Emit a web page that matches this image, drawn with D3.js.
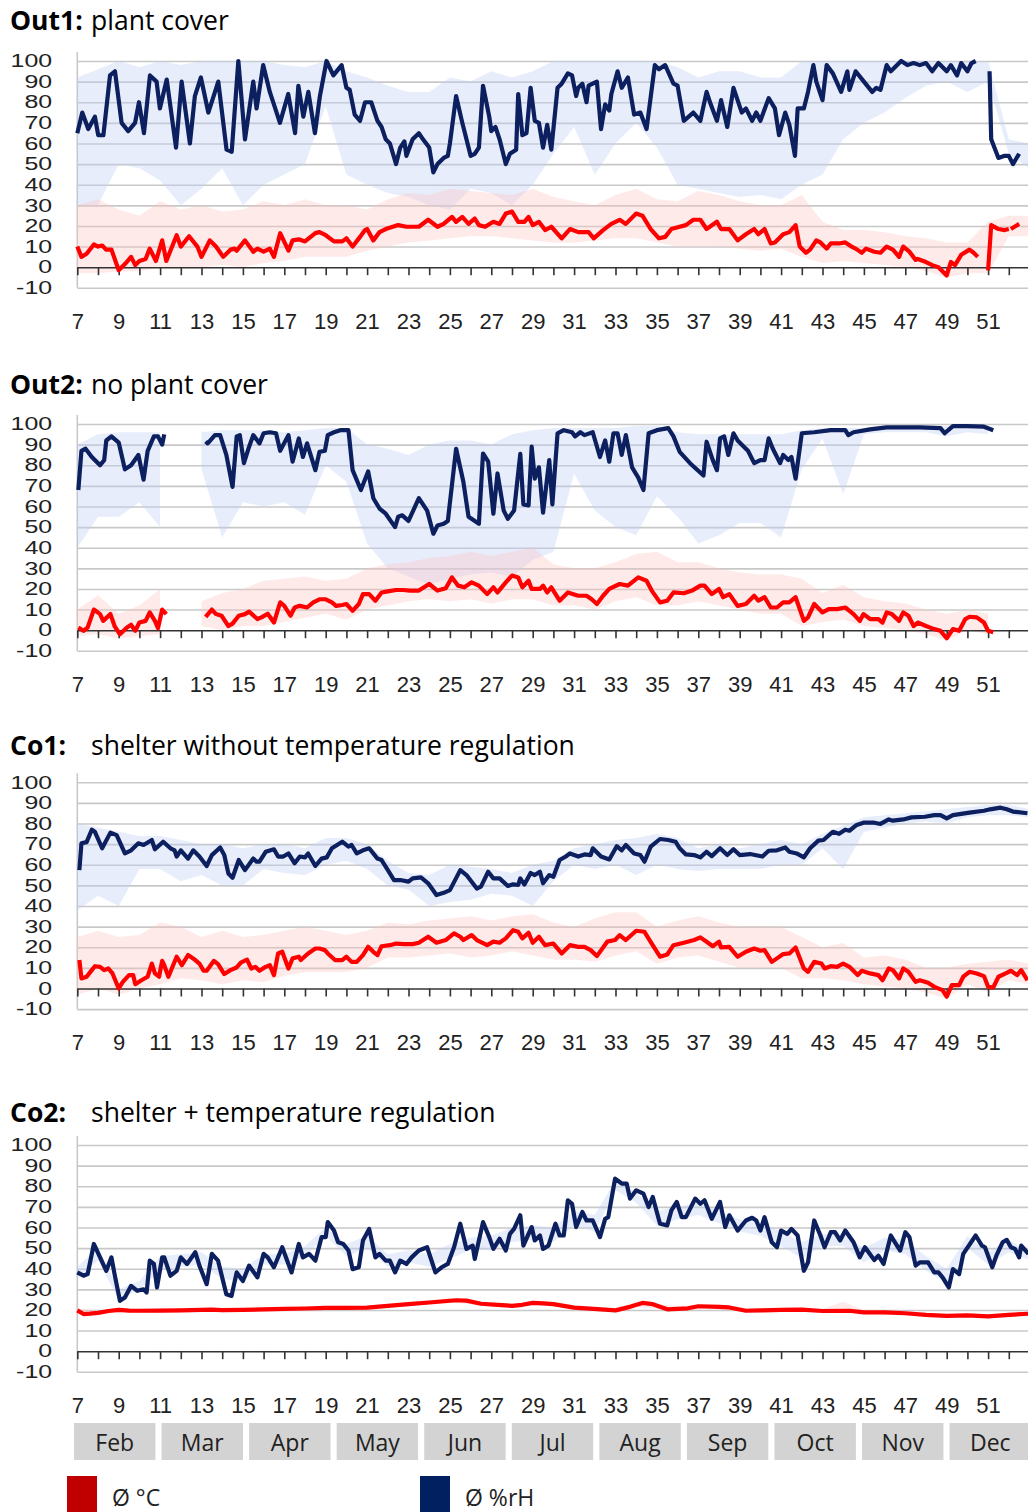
<!DOCTYPE html>
<html>
<head>
<meta charset="utf-8">
<script src="https://cdn.jsdelivr.net/npm/d3@7"></script>
<style>
    body { margin: 0; background: #fff; }
    svg { display: block; font-family: "Open Sans", "Noto Sans", sans-serif; }
</style>
</head>
<body>
<svg id="chart" width="1028" height="1512"></svg>
<script>
"use strict";

// calendar weeks (x), tick labels
var weekTicks = d3.range(7, 53);
var weekLabels = d3.range(7, 52, 2);
var bandWeeks = d3.range(7, 54);
var yTicks = d3.range(-10, 101, 10);
var months = ["Feb", "Mar", "Apr", "May", "Jun", "Jul", "Aug", "Sep", "Oct", "Nov", "Dec"];

// ---- Out1: plant cover ----  [week, value]
var out1Rh = [[7,65],[7.24,75],[7.53,67],[7.85,73],[8.01,64],[8.26,64],[8.58,93],[8.82,95],[9.14,70],[9.46,66],[9.79,70],[9.98,80],[10.22,65],[10.51,93],[10.83,90],[10.99,77],[11.32,91],[11.77,58],[12.04,90],[12.44,60],[12.68,83],[12.97,92],[13.33,75],[13.81,90],[14.21,57],[14.46,56],[14.78,100],[15.1,62],[15.5,90],[15.66,77],[15.98,98],[16.3,85],[16.79,70],[17.19,84],[17.52,65],[17.68,88],[17.92,73],[18.16,85],[18.48,65],[18.72,83],[19.04,100],[19.37,93],[19.77,98],[20.0,87],[20.16,86],[20.4,74],[20.66,71],[20.9,80],[21.2,80],[21.5,71],[21.7,68],[21.9,62],[22.1,60],[22.4,50],[22.6,58],[22.8,61],[22.9,54],[23.2,62],[23.5,65],[23.7,62],[24.0,58],[24.2,46],[24.4,50],[24.7,53],[24.9,54],[25.0,60],[25.3,83],[25.6,70],[25.8,62],[26.0,54],[26.2,55],[26.4,58],[26.6,88],[26.9,73],[27.0,66],[27.2,68],[27.4,62],[27.7,50],[27.9,55],[28.2,57],[28.3,84],[28.5,64],[28.7,65],[28.9,87],[29.1,71],[29.3,70],[29.5,58],[29.7,69],[29.9,57],[30.2,87],[30.4,89],[30.7,94],[30.9,93],[31.1,83],[31.2,87],[31.4,89],[31.6,80],[31.7,88],[31.9,89],[32.1,90],[32.3,67],[32.5,79],[32.7,76],[32.8,84],[33.1,95],[33.3,87],[33.6,92],[33.9,74],[34.2,75],[34.5,67],[34.9,98],[35.1,96],[35.4,98],[35.8,89],[36.0,88],[36.3,71],[36.76,75],[37.1,71],[37.4,85],[37.6,79],[37.9,71],[38.1,81],[38.4,68],[38.7,87],[39.1,75],[39.3,77],[39.6,71],[39.8,75],[40.0,71],[40.4,82],[40.7,77],[40.9,64],[41.2,75],[41.4,69],[41.67,54],[41.8,77],[42.1,77],[42.3,85],[42.56,98],[42.7,90],[43.0,81],[43.2,98],[43.5,94],[43.9,85],[44.2,95],[44.3,86],[44.6,95],[45.0,90],[45.4,85],[45.6,87],[45.8,86],[46.1,98],[46.3,95],[46.8,100],[47.1,98],[47.4,99],[47.7,98],[48.0,99],[48.3,95],[48.6,99],[49.0,95],[49.2,98],[49.5,93],[49.7,99],[50.0,95],[50.2,99],[50.4,100],[50.7,null],[51.07,95],[51.15,62],[51.5,53],[51.8,54],[52.0,54],[52.2,50],[52.5,55]];
var out1Temp = [[7,10],[7.2,5],[7.45,6.5],[7.8,11],[8.0,10],[8.2,10.5],[8.4,8.5],[8.65,8.5],[9.0,-1.5],[9.3,1.5],[9.6,5],[9.8,1],[10.0,3],[10.3,4],[10.5,9],[10.8,3],[11.1,13],[11.3,3],[11.8,15.5],[12.0,10],[12.4,15],[12.8,10],[13.0,5],[13.4,13],[13.7,10],[14.05,5],[14.4,8.5],[14.6,9],[14.7,8],[15.1,13],[15.5,7.5],[15.7,9],[16.0,7.5],[16.3,9],[16.5,5],[16.8,16.5],[17.2,8],[17.4,13],[17.7,13.5],[18.0,12.5],[18.5,16.5],[18.7,17],[19.0,15.5],[19.4,12.5],[19.8,12.5],[20.0,14],[20.3,10],[20.66,14.7],[20.9,18],[21.0,18.5],[21.3,13],[21.6,17],[21.9,18.5],[22.5,20.4],[22.9,19.6],[23.5,19.6],[23.95,23],[24.4,19.6],[24.7,21],[25.1,24.4],[25.3,22],[25.6,24.4],[25.9,21],[26.2,23.6],[26.4,20.4],[26.7,19.6],[27.1,22],[27.4,21],[27.7,26],[28.0,27],[28.3,22],[28.6,22],[28.8,24.4],[29.0,20.4],[29.3,22],[29.6,18],[29.9,19.6],[30.4,14],[30.8,18.5],[31.2,17],[31.7,17],[31.95,14],[32.4,18],[32.8,21],[33.2,23],[33.5,21],[34.0,26],[34.3,25],[34.7,18.5],[35.1,14],[35.4,14.7],[35.7,18.5],[36.1,19.6],[36.4,20.4],[36.76,23],[37.1,23],[37.4,18.5],[37.9,22],[38.1,18.5],[38.5,18.5],[38.9,13],[39.3,16],[39.7,18.5],[39.9,16],[40.2,18.5],[40.5,11.5],[40.7,12],[41.1,16],[41.4,17],[41.7,20.4],[41.9,10],[42.2,7],[42.4,8.5],[42.7,13],[42.9,12],[43.2,9],[43.4,11.5],[43.8,11.5],[44.1,12],[44.4,10],[44.6,9],[44.9,7],[45.1,9],[45.5,7.5],[45.8,7],[46.1,10],[46.4,8.5],[46.7,5],[46.9,10],[47.2,7.5],[47.5,3.5],[47.6,4],[48.0,2.5],[48.3,1],[48.6,0],[49.0,-4],[49.2,2.5],[49.4,1],[49.7,6],[50.1,8.5],[50.3,7],[50.5,5],[50.7,null],[51.0,-1.5],[51.15,20.4],[51.5,18.5],[51.8,18],[52.0,18.5],[52.05,null],[52.1,18.5],[52.5,21]];
// weekly min / max (weeks 7..53)
var out1RhMax = [92,96,100,97,100,98,100,100,100,100, 98,97,100,95,92,88,85,85,92,90, 95,92,95,100,100,100,100,100,100,97, 92,95,95,92,92,100,100,100,100,100, 100,100,100,100,100,62,60];
var out1RhMin = [30,30,50,48,42,30,38,48,30,40, 45,50,78,45,40,36,34,30,28,38, 36,30,40,55,68,45,60,70,58,40, 38,36,34,35,33,40,45,62,70,75, 82,88,90,85,90,55,48];
var out1TMax = [30,33,28,25,32,28,30,27,28,32, 30,33,30,30,28,33,36,35,38,37, 36,35,38,34,32,30,35,38,33,32, 37,35,32,30,30,35,22,18,18,17, 15,14,12,12,22,25,25];
var out1TMin = [-3,-3,-2,-2,0,0,0,1,0,2, 3,5,5,5,8,10,12,13,14,15, 15,14,13,12,12,13,14,14,12,10, 10,10,9,8,9,5,2,3,2,1, 0,-2,-5,-3,-3,15,15];

// ---- Out2: no plant cover ----
var out2Rh = [[7.05,68],[7.2,87],[7.4,88],[7.7,84],[8.1,80],[8.3,82.5],[8.4,92],[8.65,94],[9.0,91],[9.3,78],[9.6,80],[9.95,85],[10.2,73],[10.4,87],[10.7,94],[10.9,94],[11.1,90],[11.2,95],[12,null],[13.2,91.5],[13.3,90.6],[13.65,94.6],[13.9,94.6],[14.2,85],[14.5,69.5],[14.7,94],[14.85,94.6],[15.05,81],[15.3,89],[15.5,94.6],[15.8,90.6],[16.0,95.5],[16.3,96],[16.6,95.5],[16.8,87],[17.2,94.6],[17.4,81.7],[17.7,93],[17.9,84],[18.1,90.6],[18.5,77.6],[18.7,86.5],[18.96,87],[19.1,94.6],[19.4,96],[19.7,97],[20.1,97],[20.3,77.6],[20.7,68],[21.05,77],[21.3,64],[21.6,59],[21.9,56.5],[22.35,50],[22.5,55],[22.7,55.7],[23.0,53],[23.5,64],[23.9,58],[24.2,46.8],[24.4,50.8],[24.7,51.6],[24.9,53],[25.3,88],[25.65,72],[25.9,55],[26.4,51.6],[26.6,85.7],[26.85,81.7],[27.1,56.5],[27.3,76],[27.6,58],[27.8,54],[28.1,58],[28.4,85.5],[28.55,61],[28.8,60.5],[28.95,89],[29.1,73.5],[29.3,79],[29.5,57],[29.8,82.5],[29.95,61],[30.2,95.5],[30.5,97],[30.9,96],[31.05,94],[31.3,96],[31.5,94.6],[31.9,96],[32.25,84],[32.5,92],[32.7,81.7],[32.9,95.5],[33.1,95.5],[33.3,85],[33.5,94.6],[33.8,79],[34.1,74],[34.35,68],[34.6,95.5],[35.0,97],[35.55,98],[35.8,94],[36.1,86.5],[36.6,81],[37.25,75],[37.4,91.4],[37.7,82.5],[37.9,77.6],[38.05,93],[38.25,94],[38.45,85],[38.7,95.5],[38.9,92],[39.2,89],[39.4,87],[39.7,81],[40.0,82.5],[40.2,82.5],[40.4,93],[40.6,88],[40.95,81],[41.1,85],[41.35,82.5],[41.5,84],[41.7,73.5],[42.0,95.5],[42.6,96],[43.4,97],[44.1,97],[44.25,94.6],[44.5,96],[45.3,97.4],[46.1,98.4],[47.7,98.4],[48.7,98],[48.9,95.5],[49.3,99],[49.97,99],[50.8,98.7],[51.25,97]];
var out2Temp = [[7.05,1.3],[7.3,-0.3],[7.5,1.3],[7.8,10],[8.1,7.8],[8.25,4.5],[8.6,7.8],[8.8,2],[9.06,-2],[9.4,1.3],[9.6,2.6],[9.8,-0.3],[10.0,3.7],[10.3,4.5],[10.5,8.6],[10.75,4.5],[10.9,1],[11.1,10],[11.3,7.8],[12,null],[13.2,6.5],[13.5,10],[13.7,7.8],[13.97,7],[14.3,2],[14.5,3.2],[14.8,7],[15.1,7.8],[15.3,9],[15.7,5.4],[15.9,6.2],[16.2,8],[16.5,3.7],[16.8,13.5],[17.0,11.8],[17.3,7],[17.5,11],[17.75,11.8],[18.1,11],[18.4,13.5],[18.7,15],[19.0,15],[19.3,13.5],[19.5,11.8],[19.8,12.2],[20.0,12.7],[20.3,9.4],[20.6,12.7],[20.8,17.5],[21.1,17.5],[21.4,14.3],[21.7,18.3],[22.0,18.8],[22.4,19.5],[22.75,19.5],[23.07,19.2],[23.5,19.2],[24.0,22.4],[24.4,19.2],[24.8,20.3],[25.1,25.6],[25.4,21.6],[25.7,20.8],[26.05,23.2],[26.4,21.6],[26.8,17.5],[27.1,20.8],[27.3,18.3],[27.7,23.2],[28.0,26.5],[28.3,25.6],[28.5,20.8],[28.8,24],[28.95,20],[29.35,20],[29.5,21.6],[29.7,18.3],[29.9,20.8],[30.3,14.3],[30.7,18.3],[31.2,16.7],[31.6,16.7],[31.85,15],[32.1,12.7],[32.4,16.7],[32.7,20],[33.2,22.4],[33.6,21.6],[34.1,25.6],[34.5,24],[34.75,19.2],[35.15,13.5],[35.5,14.3],[35.8,18.3],[36.3,17.9],[36.7,19.2],[37.1,21.6],[37.3,21.6],[37.65,17.5],[38.0,20],[38.2,16],[38.5,17.5],[38.9,11.8],[39.3,12.7],[39.7,16.7],[39.9,14.3],[40.2,16],[40.5,11],[40.8,11],[41.1,13.5],[41.4,13.5],[41.7,16],[42.1,4.5],[42.3,6.2],[42.6,12.7],[43.0,8.6],[43.3,10.2],[43.7,10.2],[44.1,11],[44.5,7.8],[44.8,4.5],[44.98,7.8],[45.3,5.4],[45.7,5.4],[45.9,3.7],[46.1,8.6],[46.35,7.8],[46.7,4.5],[46.9,8.6],[47.15,7],[47.4,2],[47.6,3.7],[48.0,2],[48.4,0.5],[48.7,-0.3],[49.0,-3.9],[49.3,0.5],[49.6,-0.3],[49.9,5.4],[50.1,6.5],[50.45,6.2],[50.8,3.7],[51.0,-0.3],[51.25,-1]];
var out2RhMax = [90,95,96,96,96,null,96,97,97,97, 96,97,98,98,90,88,85,90,92,92, 90,95,97,98,98,98,98,99,99,96, 95,95,95,95,95,97,98,98,98,99, 99,99,99,99,99,null,null];
var out2RhMin = [40,55,55,62,50,null,78,45,62,60, 62,56,80,72,42,30,26,22,25,27, 28,26,34,38,76,58,50,46,65,55, 42,46,52,52,45,78,93,66,95,96, 96,96,94,96,95,null,null];
var out2TMax = [10,17,8,12,20,null,14,18,20,24, 25,26,24,25,30,32,33,35,36,38, 36,38,40,32,30,30,33,37,38,33, 33,30,28,27,27,25,18,22,16,14, 13,10,8,10,8,null,null];
var out2TMin = [-3,-2,-4,-3,-2,null,2,0,2,2, 4,6,8,5,10,12,14,15,14,15, 13,15,15,12,12,10,14,16,12,12, 14,12,10,8,8,2,4,5,2,1, 0,-2,-5,0,-2,null,null];

// ---- Co1: shelter without temperature regulation ----
var co1Rh = [[7.1,57.4],[7.2,70.4],[7.45,71],[7.7,77],[7.85,76],[8.2,68],[8.6,75.6],[8.9,74.4],[9.3,65.5],[9.6,67],[9.95,70.4],[10.2,69.6],[10.6,72],[10.75,67.5],[11.15,71.2],[11.5,68],[11.7,67],[11.8,64],[12.0,67],[12.35,63],[12.6,67],[12.9,64],[13.25,59.4],[13.5,64.7],[13.9,68.4],[14.1,64.7],[14.3,55.8],[14.5,53.7],[14.8,62.3],[15.1,57.4],[15.5,63],[15.66,61.5],[15.8,61.5],[16.1,66.3],[16.5,67.5],[16.7,64],[16.95,64],[17.2,65.5],[17.5,60.7],[17.75,64],[18.0,63.6],[18.15,65.5],[18.5,59.4],[18.8,63],[19.05,63.6],[19.3,68],[19.8,71.2],[20.1,68.8],[20.25,69.6],[20.5,65.5],[20.8,67],[21.1,68],[21.5,63],[21.7,62.3],[21.95,58.3],[22.3,52.6],[22.6,52.6],[23.0,51.8],[23.2,53.4],[23.6,53.9],[23.95,51],[24.35,45.3],[24.7,46.4],[25.0,47.7],[25.5,57.4],[25.8,55],[26.3,48.5],[26.5,49.4],[26.85,56.6],[27.1,53.4],[27.4,53.4],[27.8,49.7],[28.05,50.5],[28.3,50.2],[28.4,53.4],[28.6,50.4],[28.9,56],[29.1,55],[29.35,56.6],[29.5,51],[29.8,55],[30.0,54.2],[30.3,62.3],[30.6,64],[30.8,65.5],[31.2,64],[31.5,65],[31.8,64.7],[31.9,68],[32.3,64],[32.7,62.6],[33.06,69],[33.3,67],[33.5,69.6],[33.9,65.5],[34.2,64.7],[34.4,61.5],[34.7,68.8],[35.15,72.5],[35.55,72],[35.9,71.2],[36.1,68],[36.4,65],[36.8,64.7],[37.1,63.6],[37.4,66.3],[37.65,64.2],[38.05,68],[38.4,64.7],[38.7,67.5],[39.0,64.7],[39.5,65.2],[40.1,64],[40.4,66.8],[40.8,67],[41.2,68.4],[41.4,66.3],[41.75,65.5],[42.1,63.6],[42.4,68],[42.8,71.7],[43.05,72],[43.5,76],[43.8,75],[44.1,77],[44.3,76.5],[44.65,79.3],[44.98,80.4],[45.5,80.4],[45.8,79.8],[46.2,82],[46.4,81.4],[46.9,82],[47.3,83],[47.95,83.3],[48.4,84.1],[48.7,84.1],[49.0,82.5],[49.3,84.1],[50.1,85.3],[50.8,86.2],[51.1,86.9],[51.6,87.7],[51.9,86.9],[52.2,85.8],[52.9,85]];
var co1Temp = [[7.1,13.8],[7.2,4.9],[7.45,5.7],[7.7,8.9],[7.85,10.8],[8.1,10.5],[8.3,8.9],[8.5,9.7],[8.7,7.3],[9.0,0],[9.2,3.2],[9.5,6.5],[9.7,6.5],[9.8,2.1],[10.1,4],[10.4,5.7],[10.6,12.1],[10.75,7.3],[10.95,5.7],[11.1,13.4],[11.2,11.3],[11.4,5.7],[11.8,15.4],[12.05,11.3],[12.35,16.2],[12.7,13.8],[12.9,12.1],[13.1,8.6],[13.25,8.6],[13.6,13.4],[13.8,11.8],[14.1,7],[14.4,8.9],[14.7,10.2],[14.9,12.5],[15.2,14],[15.4,9.7],[15.6,10.5],[15.8,8.6],[16.1,10.5],[16.3,11.3],[16.5,6.5],[16.7,17],[16.9,17.8],[17.2,9.7],[17.4,14.6],[17.7,15.4],[17.8,13.8],[18.15,17],[18.5,19.4],[18.7,19.4],[18.96,18.6],[19.1,17],[19.45,13.8],[19.8,13.8],[20.0,15.4],[20.25,12.9],[20.5,12.9],[20.8,16.2],[21.05,20.2],[21.3,17.8],[21.5,16.2],[21.7,20.5],[22.1,21],[22.4,21.8],[22.8,21.5],[23.2,21.5],[23.5,22.2],[23.95,25.1],[24.35,22.2],[24.8,23.5],[25.2,26.7],[25.5,25.1],[25.65,23.5],[26.05,25.9],[26.3,23.5],[26.8,21],[27.1,22.7],[27.4,22.2],[27.7,24.3],[28.05,28.3],[28.3,27.5],[28.5,24.3],[28.8,27],[29.0,22.2],[29.3,25.1],[29.6,21],[30.0,21.8],[30.4,17],[30.8,21],[31.2,20.2],[31.5,20.2],[31.8,18.6],[32.1,15.7],[32.6,22.7],[32.98,23.5],[33.2,25.9],[33.5,23.5],[34.0,28],[34.4,27.5],[34.75,21.8],[35.15,15.4],[35.5,16.5],[35.8,21],[36.3,22.2],[36.8,23.5],[37.1,24.8],[37.4,22.7],[37.7,20.5],[38.0,22.7],[38.1,19.9],[38.5,20.2],[38.9,15.4],[39.3,17.8],[39.7,19.4],[40.0,18.3],[40.2,18.6],[40.55,12.9],[40.8,14.6],[41.1,16.7],[41.4,17],[41.7,19.9],[42.1,9.7],[42.3,8.1],[42.6,12.9],[42.95,12.1],[43.1,9.7],[43.4,10.8],[43.7,10.5],[44.0,12.1],[44.3,10.5],[44.7,6.5],[44.9,8.6],[45.3,7.3],[45.7,6.5],[45.9,4],[46.2,9.7],[46.4,8.9],[46.7,4.9],[46.9,9.7],[47.15,8.1],[47.5,3.2],[47.7,4],[48.1,2.8],[48.4,0.8],[48.8,-0.8],[49.0,-4],[49.25,1.6],[49.6,1.6],[49.8,5.7],[50.1,8.1],[50.45,7.3],[50.8,6],[51.0,0.8],[51.25,0.5],[51.5,5.7],[51.9,7.6],[52.1,8.6],[52.4,6.5],[52.6,8.9],[52.9,4]];
var co1RhMax = [80,78,76,74,74,72,70,70,68,70, 70,68,73,73,70,62,56,55,60,59, 58,56,60,62,68,70,72,73,75,73, 68,70,68,70,72,70,75,79,83,84, 85,86,87,88,89,89,87];
var co1RhMin = [38,45,40,58,58,52,55,50,50,58, 56,55,60,62,58,50,48,40,42,43, 46,45,40,52,60,58,60,55,60,58, 57,58,58,58,60,60,68,58,76,78, 80,81,80,83,84,84,83];
var co1TMax = [25,28,25,26,32,30,25,28,25,26, 28,30,28,26,28,32,31,33,34,35, 33,35,36,32,30,34,37,37,30,33, 35,32,30,30,30,25,20,22,15,16, 14,10,10,12,13,14,12];
var co1TMin = [-3,0,-3,0,2,5,4,2,4,3, 6,8,8,8,10,15,15,16,17,15, 16,18,16,14,14,13,16,18,12,15, 16,13,10,10,10,5,5,4,2,1, 0,-2,-5,2,-2,4,2];

// ---- Co2: shelter + temperature regulation ----
var co2Rh = [[7.0,38.2],[7.3,36.6],[7.5,37.4],[7.8,52],[8.1,45.5],[8.4,39],[8.65,45.5],[8.8,37.4],[9.06,24.4],[9.3,26],[9.6,31.7],[9.9,29.3],[10.2,30],[10.35,28.5],[10.5,43.9],[10.7,42.3],[10.85,30.9],[11.1,45.5],[11.2,45.5],[11.5,36.6],[11.8,39],[12.0,45.5],[12.3,42.3],[12.7,48],[12.9,41.5],[13.25,32.5],[13.5,47.2],[13.8,43.9],[14.2,27.6],[14.45,26.8],[14.7,38.2],[15.0,34],[15.3,41.5],[15.7,35.8],[16.0,47.2],[16.2,45.5],[16.5,40.7],[16.9,50.4],[17.35,38.2],[17.7,52],[17.9,45.5],[18.2,47.2],[18.5,43.9],[18.8,55.3],[19.0,55.3],[19.1,62.6],[19.4,58.5],[19.6,52.8],[19.85,52],[20.1,48.8],[20.3,39.8],[20.6,40.7],[20.8,53.7],[21.1,59.3],[21.4,45.5],[21.6,47.2],[21.9,43.9],[22.1,43.9],[22.35,38.2],[22.6,43.9],[22.9,42.3],[23.15,45.5],[23.5,48.8],[23.9,50.4],[24.3,38.2],[24.6,40.7],[24.9,42.3],[25.2,50.4],[25.5,61.8],[25.8,49.6],[26.1,51.2],[26.2,44.7],[26.6,62.6],[26.9,55.3],[27.1,49.6],[27.4,54.5],[27.7,48.8],[27.9,56.9],[28.1,59.3],[28.4,65.9],[28.55,51.2],[28.8,56.9],[28.95,60.2],[29.1,53.7],[29.35,56.1],[29.5,49.6],[29.76,51.2],[30.1,61.8],[30.3,56.1],[30.5,56.1],[30.7,73.2],[30.9,71.5],[31.1,60.2],[31.4,67.5],[31.6,63.4],[31.9,63.4],[32.25,55.3],[32.5,64.2],[32.65,65],[32.98,83.7],[33.3,81.3],[33.54,81.3],[33.7,74],[34.0,78],[34.35,76.4],[34.6,69.9],[34.8,74.8],[35.15,61.8],[35.5,61],[35.7,68.3],[35.96,72.4],[36.2,65],[36.4,65],[36.85,74],[37.1,71.5],[37.3,73.2],[37.65,64.2],[38.05,72.4],[38.3,60.2],[38.5,65.9],[38.9,58.5],[39.3,63.4],[39.6,64.7],[39.8,63.4],[40.0,58.5],[40.2,65],[40.55,52.8],[40.8,50.4],[41.0,58.5],[41.3,56.9],[41.5,59.3],[41.8,56.1],[42.1,39],[42.3,43.1],[42.6,63.4],[42.9,56.1],[43.1,50.4],[43.4,57.7],[43.6,57.7],[43.85,53.7],[44.1,58.5],[44.5,52.8],[44.8,45.5],[45.05,50.4],[45.5,44.2],[45.7,46.3],[45.95,42.3],[46.3,56.1],[46.5,52.8],[46.75,48.8],[47.0,57.7],[47.2,55.3],[47.5,41.5],[47.7,43.1],[48.1,43.1],[48.4,38.2],[48.6,38.2],[48.8,35.8],[49.1,30.9],[49.3,39.8],[49.6,37.4],[49.8,47.2],[50.4,56.1],[50.7,51.2],[50.85,50.4],[51.2,40.7],[51.4,46.3],[51.7,52.8],[51.9,54],[52.1,50.4],[52.3,49.6],[52.5,45.5],[52.6,51.2],[52.95,47.2]];
var co2Temp = [[7,19.8],[7.3,18],[7.6,18.2],[8,18.6],[8.5,19.5],[9,20],[9.5,19.7],[10,19.6],[11,19.7],[12,19.8],[13,20],[13.5,20.2],[14,19.9],[15,20],[16,20.3],[17,20.5],[18,20.7],[19,21],[20,21],[21,21.1],[22,22],[23,22.8],[24,23.6],[25.3,24.7],[25.8,24.5],[26.5,23],[27.5,22.3],[28,22],[28.5,22.5],[29,23.4],[29.5,23.2],[30,22.8],[31,21.1],[32.3,20.3],[33,19.8],[33.7,21.5],[34.3,23.4],[34.8,22.8],[35.5,20.3],[36.5,20.8],[37,21.8],[38,21.5],[38.5,21.2],[39.3,19.6],[40,19.8],[41,20],[42,20.2],[43,19.5],[44.3,19.6],[45,18.8],[46,18.8],[47,18.4],[48,17.6],[49,17.1],[50,17.4],[51,16.9],[52,17.6],[53,18.2]];
var co2RhMax = [41,50,30,34,46,47,48,41,40,47, 47,51,60,52,56,47,49,47,52,55, 56,60,61,60,68,66,83,77,68,70, 72,68,64,62,58,53,57,57,50,55, 54,46,40,56,48,54,48];
var co2RhMin = [35,44,25,30,39,41,42,35,34,42, 42,46,56,46,50,41,43,41,45,49, 49,53,54,53,61,58,78,72,61,64, 66,62,58,56,51,45,51,51,43,49, 47,39,33,50,42,48,44];
var co2TMax = [20.8,19.6,21,20.6,20.7,20.8,21,20.9,21,21.3, 21.3,21.5,22,22,22,23,24,24.8,25.8,25, 23.5,23,24.5,23.8,22.2,21.5,21,23.8,23,21.8, 22.8,22.5,21.2,20.8,21,21.2,20.5,24,19.8,19.8, 19.4,18.6,18.1,18.4,17.9,18.6,19.2];
var co2TMin = [18,17.6,19,18.6,18.7,18.8,19,18.9,19,19.3, 19.5,19.7,20,20,20.1,21,21.8,22.6,23.5,22.8, 21.5,21,22.4,21.8,20.1,19.5,18.8,21.5,20.5,19.6, 20.8,20.5,19.2,18.8,19,19.2,18.5,18.6,17.8,17.8, 17.4,16.6,16.1,16.4,15.9,16.6,17.2];

var legendItems = [
    { label: "Ø °C", color: "#c00000" },
    { label: "Ø %rH", color: "#002060" }
];

var FONT = '"Open Sans", "Noto Sans", sans-serif';
// tighter metrics for the densely stacked y labels
var TICK_FONT = '"Liberation Sans", Arial, sans-serif';
var RH_COLOR = "#0c1f5e";
var T_COLOR = "#ff0000";
var GRID = "#c8c8c8";

var panels = [
    { label: "Out1:", title: "plant cover", top: 61, titleY: 30,
      rh: out1Rh, temp: out1Temp, rhMin: out1RhMin, rhMax: out1RhMax, tMin: out1TMin, tMax: out1TMax },
    { label: "Out2:", title: "no plant cover", top: 424, titleY: 394,
      rh: out2Rh, temp: out2Temp, rhMin: out2RhMin, rhMax: out2RhMax, tMin: out2TMin, tMax: out2TMax },
    { label: "Co1:", title: "shelter without temperature regulation", top: 782.3, titleY: 755,
      rh: co1Rh, temp: co1Temp, rhMin: co1RhMin, rhMax: co1RhMax, tMin: co1TMin, tMax: co1TMax },
    { label: "Co2:", title: "shelter + temperature regulation", top: 1145, titleY: 1122,
      rh: co2Rh, temp: co2Temp, rhMin: co2RhMin, rhMax: co2RhMax, tMin: co2TMin, tMax: co2TMax }
];

var svg = d3.select("#chart");
var width = 1028;

// one shared week axis
var x = d3.scaleLinear().domain([7, 53]).range([77.3, 1029.5]);

panels.forEach(function (p) {
    var g = svg.append("g");
    var y = d3.scaleLinear().domain([-10, 100]).range([p.top + 226.8, p.top]);

    // title
    var title = g.append("text")
        .attr("x", 10)
        .attr("y", p.titleY)
        .attr("font-size", 26.5)
        .attr("fill", "#000");
    title.append("tspan").attr("font-weight", "bold").text(p.label);
    title.append("tspan").attr("x", 91).text(p.title);

    // horizontal grid
    g.append("g")
        .attr("transform", "translate(" + x(7) + ",0)")
        .call(d3.axisLeft(y)
            .tickValues(yTicks.filter(function (v) { return v !== 0; }))
            .tickSize(-(width - x(7)))
            .tickFormat(""))
        .call(function (a) {
            a.select(".domain").remove();
            a.selectAll("line").attr("stroke", GRID).attr("stroke-width", 1.6);
        });

    // left axis line
    g.append("line")
        .attr("x1", x(7)).attr("x2", x(7))
        .attr("y1", p.top - 9).attr("y2", y(-10))
        .attr("stroke", GRID).attr("stroke-width", 1.6);

    // y labels (plain hyphen for negatives, as in the original)
    g.append("g")
        .attr("transform", "translate(" + x(7) + ",0)")
        .attr("font-family", TICK_FONT)
        .call(d3.axisLeft(y).tickValues(yTicks).tickSize(0).tickPadding(18)
            .tickFormat(function (d) { return String(d); }))
        .call(function (a) {
            a.select(".domain").remove();
            a.selectAll("text")
                .attr("font-size", 17.8)
                .attr("fill", "#222")
                .attr("transform", "scale(1.4,1)");
        });

    // min/max bands
    var band = d3.area()
        .defined(function (d) { return d.lo != null && d.hi != null; })
        .x(function (d) { return x(d.w); })
        .y0(function (d) { return y(d.lo); })
        .y1(function (d) { return y(d.hi); });

    var rhBand = bandWeeks.map(function (w, i) { return { w: w, lo: p.rhMin[i], hi: p.rhMax[i] }; });
    var tBand = bandWeeks.map(function (w, i) { return { w: w, lo: p.tMin[i], hi: p.tMax[i] }; });

    g.append("path").datum(rhBand)
        .attr("d", band)
        .attr("fill", "#c0d0f4").attr("fill-opacity", 0.38);
    g.append("path").datum(tBand)
        .attr("d", band)
        .attr("fill", "#ffc0c0").attr("fill-opacity", 0.34);

    // zero line with weekly ticks
    g.append("g")
        .attr("transform", "translate(0," + y(0) + ")")
        .call(d3.axisBottom(x).tickValues(weekTicks).tickSize(8).tickSizeOuter(0).tickFormat(""))
        .call(function (a) {
            a.select(".domain").attr("stroke", "#333").attr("stroke-width", 1.6);
            a.selectAll("line").attr("stroke", "#333").attr("stroke-width", 1.6);
        });

    // week labels
    g.append("g")
        .attr("transform", "translate(0," + y(0) + ")")
        .attr("font-family", FONT)
        .call(d3.axisBottom(x).tickValues(weekLabels).tickSize(0).tickPadding(46).tickFormat(d3.format("d")))
        .call(function (a) {
            a.select(".domain").remove();
            a.selectAll("text").attr("font-size", 22).attr("fill", "#222");
        });

    // mean lines
    var line = d3.line()
        .defined(function (d) { return d[1] !== null; })
        .x(function (d) { return x(d[0]); })
        .y(function (d) { return y(d[1]); });

    g.append("path").datum(p.rh)
        .attr("d", line)
        .attr("fill", "none")
        .attr("stroke", RH_COLOR)
        .attr("stroke-width", 4.2)
        .attr("stroke-linejoin", "round");
    g.append("path").datum(p.temp)
        .attr("d", line)
        .attr("fill", "none")
        .attr("stroke", T_COLOR)
        .attr("stroke-width", 4.2)
        .attr("stroke-linejoin", "round");
});

// month strip
var mx = d3.scaleBand().domain(months).range([74, 1031]).paddingInner(0.07);
var m = svg.append("g").selectAll("g").data(months).enter().append("g");
m.append("rect")
    .attr("x", function (d) { return mx(d); })
    .attr("y", 1423)
    .attr("width", mx.bandwidth())
    .attr("height", 37)
    .attr("fill", "#d3d3d3");
m.append("text")
    .attr("x", function (d) { return mx(d) + mx.bandwidth() / 2; })
    .attr("y", 1451)
    .attr("text-anchor", "middle")
    .attr("font-size", 23)
    .attr("fill", "#222")
    .text(function (d) { return d; });

// legend
var lx = d3.scalePoint().domain(legendItems.map(function (d) { return d.label; })).range([67, 420]);
var lg = svg.append("g").selectAll("g").data(legendItems).enter().append("g")
    .attr("transform", function (d) { return "translate(" + lx(d.label) + ",1476)"; });
lg.append("rect")
    .attr("width", 30).attr("height", 40)
    .attr("fill", function (d) { return d.color; });
lg.append("text")
    .attr("x", 45).attr("y", 30)
    .attr("font-size", 23)
    .attr("fill", "#222")
    .text(function (d) { return d.label; });
</script>
</body>
</html>
